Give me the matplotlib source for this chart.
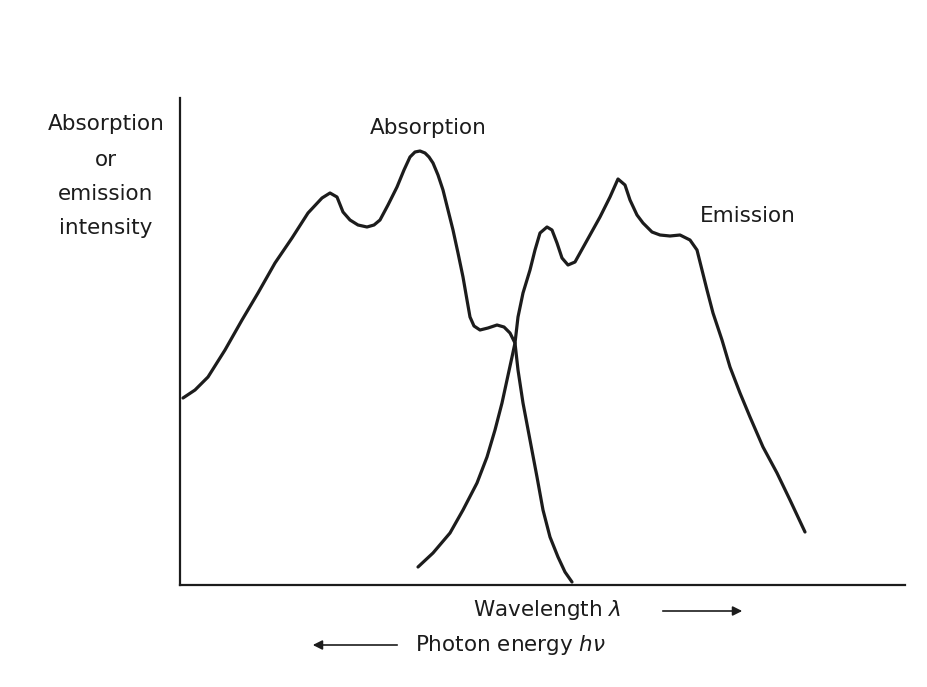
import matplotlib.pyplot as plt

# values (arbitrary units: wavelength -> , intensity ^)
abs_x = [3, 15, 28, 45, 62, 78, 95, 112, 128, 142, 150, 157, 163, 170, 178,
         187, 194, 200, 208, 217, 224, 230, 235, 240, 245, 249, 253, 258, 263,
         268, 273, 278, 283, 287, 290, 294, 300, 308, 317, 324, 330, 335, 338,
         343, 350, 357, 363, 370, 378, 385, 392]
abs_y = [187, 195, 208, 235, 265, 292, 322, 347, 372, 387, 392, 388, 373, 365,
         360, 358, 360, 365, 380, 398, 415, 428, 433, 434, 432, 428, 422, 410,
         395, 375, 355, 332, 308, 285, 268, 259, 255, 257, 260, 258, 252, 242,
         215, 182, 145, 108, 75, 48, 28, 13, 3]

emi_x = [238, 253, 270, 283, 297, 307, 315, 322, 327, 332, 335, 338, 343, 350,
         355, 360, 367, 372, 377, 382, 388, 395, 400, 410, 420, 430, 438, 445,
         450, 457, 463, 472, 480, 490, 500, 510, 517, 522, 527, 533, 542, 550,
         560, 570, 583, 597, 610, 625]
emi_y = [18, 32, 52, 75, 102, 128, 155, 182, 205, 228, 242, 268, 292, 315, 335,
         352, 358, 355, 342, 327, 320, 323, 332, 350, 368, 388, 406, 400, 385,
         370, 362, 353, 350, 349, 350, 345, 335, 315, 295, 272, 245, 218, 192,
         168, 138, 112, 85, 53]

ink = '#1c1c1c'
plt.rcParams['font.family'] = ['DejaVu Sans']
plt.rcParams['mathtext.fontset'] = 'dejavusans'

fig = plt.figure(figsize=(9.28, 6.87), dpi=100)
ax = fig.add_axes([180 / 928, 102 / 687, 725 / 928, 487 / 687])
ax.plot(abs_x, abs_y, color=ink, lw=2.3, solid_capstyle='round', solid_joinstyle='round')
ax.plot(emi_x, emi_y, color=ink, lw=2.3, solid_capstyle='round', solid_joinstyle='round')
ax.set_xlim(0, 725)
ax.set_ylim(0, 487)
for s in ['top', 'right']:
    ax.spines[s].set_visible(False)
for s in ['left', 'bottom']:
    ax.spines[s].set_color(ink)
    ax.spines[s].set_linewidth(1.6)
ax.set_xticks([])
ax.set_yticks([])

fs = 15.5
ax.text(248, 457, 'Absorption', fontsize=fs, ha='center', va='center', color=ink)
ax.text(568, 369, 'Emission', fontsize=fs, ha='center', va='center', color=ink)

for label, py in [('Absorption', 124), ('or', 160), ('emission', 194), ('intensity', 228)]:
    fig.text(106, 687 - py, label, fontsize=fs, ha='center', va='center',
             color=ink, transform=None)

fig.text(547, 687 - 610, r'Wavelength $\lambda$', fontsize=fs, ha='center', va='center',
         color=ink, transform=None)
fig.text(511, 687 - 645, r'Photon energy $h\nu$', fontsize=fs, ha='center', va='center',
         color=ink, transform=None)
ax.annotate('', xy=(745, 687 - 611), xytext=(660, 687 - 611), xycoords='figure pixels',
            textcoords='figure pixels',
            arrowprops=dict(arrowstyle='-|>', color=ink, lw=1.2, mutation_scale=14))
ax.annotate('', xy=(310, 687 - 645), xytext=(400, 687 - 645), xycoords='figure pixels',
            textcoords='figure pixels',
            arrowprops=dict(arrowstyle='-|>', color=ink, lw=1.2, mutation_scale=14))

fig.savefig('out.png', dpi=100)
